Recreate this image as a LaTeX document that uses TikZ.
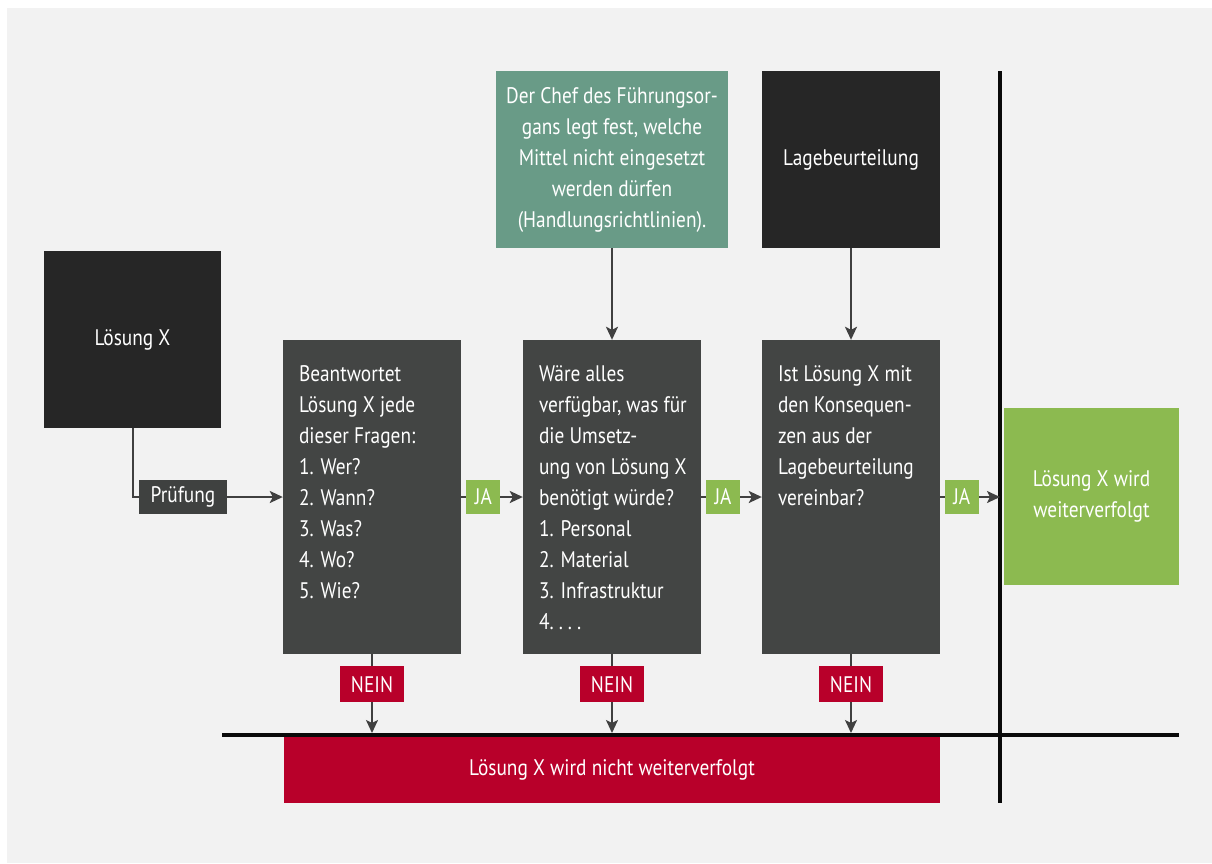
\documentclass[tikz,border=0pt]{standalone}
\usepackage{fontspec}
\setmainfont{PT Sans}[FakeStretch=0.86]
\usetikzlibrary{arrows.meta}
\definecolor{bg}{HTML}{F2F2F2}
\definecolor{boxdark}{HTML}{262626}
\definecolor{boxgrey}{HTML}{434544}
\definecolor{labgrey}{HTML}{3F4140}
\definecolor{teal}{HTML}{699B87}
\definecolor{okgreen}{HTML}{8CBA50}
\definecolor{nored}{HTML}{B8002A}
\definecolor{linegrey}{HTML}{404040}
\definecolor{rule}{HTML}{0A0A0A}
\tikzset{
  txt/.style={text=white, font=\fontsize{22.5}{31}\selectfont},
  panel/.style={txt, inner sep=0pt, align=center},
  qbox/.style={fill=boxgrey, inner sep=0pt, minimum width=178pt, minimum height=314pt},
  qtext/.style={txt, inner sep=0pt, align=left, anchor=north west},
  tag/.style={txt, inner xsep=9pt, inner ysep=0pt, minimum height=34pt},
  jatag/.style={tag, fill=okgreen, minimum width=34pt, inner xsep=0pt},
  neintag/.style={tag, fill=nored, minimum width=64pt, minimum height=36pt, inner xsep=0pt},
  arr/.style={draw=linegrey, line width=2pt, -{Stealth[length=13pt,width=12pt,inset=3pt]}},
  link/.style={draw=linegrey, line width=2pt},
  bar/.style={draw=rule, line width=4pt},
}
\begin{document}
\begin{tikzpicture}[x=1pt, y=-1pt]
  % page and backdrop
  \useasboundingbox (0,0) rectangle (1212,863);
  \fill[white] (0,0) rectangle (1212,863);
  \fill[bg] (7,8) rectangle (1212,863);

  % boxes
  \node[panel, fill=boxdark, minimum width=177pt, minimum height=177pt] (loesung) at (132.5,339.5) {Lösung X};
  \node[panel, fill=teal, minimum width=232pt, minimum height=177pt] (chef) at (612,159.5)
    {Der Chef des Führungsor-\\gans legt fest, welche\\Mittel nicht eingesetzt\\werden dürfen\\(Handlungsrichtlinien).};
  \node[panel, fill=boxdark, minimum width=178pt, minimum height=177pt] (lage) at (851,159.5) {Lagebeurteilung};

  \node[qbox] (q1) at (372,497) {};
  \node[qbox] (q2) at (612,497) {};
  \node[qbox] (q3) at (851,497) {};

  \node[qtext] at ([xshift=16pt,yshift=-26pt]q1.north west)
    {Beantwortet\\Lösung X jede\\dieser Fragen:\\1. Wer?\\2. Wann?\\3. Was?\\4. Wo?\\5. Wie?};
  \node[qtext] at ([xshift=16pt,yshift=-26pt]q2.north west)
    {Wäre alles\\verfügbar, was für\\die Umsetz-\\ung von Lösung X\\benötigt würde?\\1. Personal\\2. Material\\3. Infrastruktur\\4.\ .\kern5pt.\kern5pt.};
  \node[qtext] at ([xshift=16pt,yshift=-26pt]q3.north west)
    {Ist Lösung X mit\\den Konsequen-\\zen aus der\\Lagebeurteilung\\vereinbar?};

  \node[panel, fill=okgreen, minimum width=175pt, minimum height=177pt] (ja) at (1091.5,496.5)
    {Lösung X wird\\weiterverfolgt};
  \node[panel, fill=nored, minimum width=656pt, minimum height=66pt] (nein) at (612,770)
    {Lösung X wird nicht weiterverfolgt};

  % dividing rules
  \coordinate (vtop) at (1000,71);
  \coordinate (vbot) at (1000,803);
  \coordinate (hleft) at (222,735);
  \coordinate (hright) at (1179,735);
  \coordinate (hstop) at (0,733);
  \draw[bar] (hleft) -- (hright);
  \draw[bar] (vtop) -- (vbot);

  % test path
  \node[tag, fill=labgrey, minimum width=88pt, inner xsep=0pt] (pruef) at (183,497) {Prüfung};
  \draw[link] (loesung.south) |- (pruef.west);
  \draw[arr] (pruef.east) -- (q1.west);

  % constraints from above
  \draw[arr] (chef.south) -- (q2.north);
  \draw[arr] (lage.south) -- (q3.north);

  % yes branches
  \coordinate (vline) at (1000,497);
  \draw[arr] (q1.east) -- (q2.west) node[jatag, pos=0.36] {JA};
  \draw[arr] (q2.east) -- (q3.west) node[jatag, pos=0.36] {JA};
  \draw[arr] (q3.east) -- (vline) node[jatag, pos=0.36] {JA};

  % no branches
  \draw[arr] (q1.south) -- (q1.south |- hstop) node[neintag, pos=0.38] {NEIN};
  \draw[arr] (q2.south) -- (q2.south |- hstop) node[neintag, pos=0.38] {NEIN};
  \draw[arr] (q3.south) -- (q3.south |- hstop) node[neintag, pos=0.38] {NEIN};
\end{tikzpicture}
\end{document}
